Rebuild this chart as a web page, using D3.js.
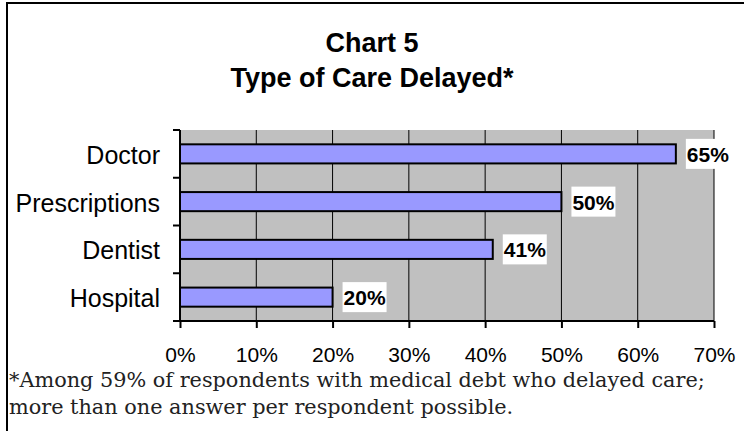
<!DOCTYPE html>
<html>
<head>
<script src="https://cdn.jsdelivr.net/npm/d3@7"></script>
<style>
  body { margin: 0; background: #fff; }
  text { font-family: "Liberation Sans", Arial, sans-serif; }
</style>
</head>
<body>
<div id="chart"></div>
<script>
// data
var categories = ["Doctor", "Prescriptions", "Dentist", "Hospital"];
var values = [65, 50, 41, 20];
var xTicks = [0, 10, 20, 30, 40, 50, 60, 70];
var titleLines = ["Chart 5", "Type of Care Delayed*"];
var footnote = ["*Among 59% of respondents with medical debt who delayed care;",
                "more than one answer per respondent possible."];

var width = 744, height = 431;
var plotL = 180, plotR = 714, plotT = 130, plotB = 321;

var svg = d3.select("#chart").append("svg")
    .attr("width", width)
    .attr("height", height);

// frame (top + left edges only are visible)
svg.append("line").attr("x1", 6).attr("x2", 744).attr("y1", 3).attr("y2", 3)
    .attr("stroke", "#000").attr("stroke-width", 2);
svg.append("line").attr("x1", 7).attr("x2", 7).attr("y1", 3).attr("y2", 431)
    .attr("stroke", "#000").attr("stroke-width", 2);

// title
svg.selectAll(".title")
    .data(titleLines)
    .enter().append("text")
    .attr("x", 372)
    .attr("y", function(d, i) { return 52 + i * 35; })
    .attr("text-anchor", "middle")
    .attr("font-size", 27)
    .attr("font-weight", "bold")
    .text(function(d) { return d; });

var x = d3.scaleLinear().domain([0, 70]).range([plotL, plotR]);
var y = d3.scaleBand().domain(categories).range([plotT, plotB]);

// plot background
svg.append("rect")
    .attr("x", plotL).attr("y", plotT)
    .attr("width", plotR - plotL).attr("height", plotB - plotT)
    .attr("fill", "#c0c0c0");

// gridlines
svg.selectAll(".grid")
    .data(xTicks.slice(1))
    .enter().append("line")
    .attr("x1", function(d) { return x(d); })
    .attr("x2", function(d) { return x(d); })
    .attr("y1", plotT).attr("y2", plotB)
    .attr("stroke", "#000").attr("stroke-width", 1);

// bars
var barH = y.bandwidth() * 0.4;
svg.selectAll(".bar")
    .data(values)
    .enter().append("rect")
    .attr("x", x(0))
    .attr("y", function(d, i) { return y(categories[i]) + y.bandwidth() / 2 - barH / 2; })
    .attr("width", function(d) { return x(d) - x(0); })
    .attr("height", barH)
    .attr("fill", "#9999ff")
    .attr("stroke", "#000")
    .attr("stroke-width", 2);

// value labels with white boxes
var lab = svg.selectAll(".lab")
    .data(values)
    .enter().append("g")
    .attr("transform", function(d, i) {
        return "translate(" + (x(d) + 10) + "," + (y(categories[i]) + y.bandwidth() / 2) + ")";
    });
lab.append("rect")
    .attr("x", 0).attr("y", -15)
    .attr("width", 44).attr("height", 30)
    .attr("fill", "#fff");
lab.append("text")
    .attr("x", 1).attr("y", 8)
    .attr("font-size", 21)
    .attr("font-weight", "bold")
    .text(function(d) { return d + "%"; });

// x axis
var xAxis = d3.axisBottom(x)
    .tickValues(xTicks)
    .tickSize(7)
    .tickPadding(19)
    .tickFormat(function(d) { return d + "%"; });
var gx = svg.append("g")
    .attr("transform", "translate(0," + plotB + ")")
    .call(xAxis);
gx.select(".domain").attr("stroke-width", 2).attr("d", "M" + plotL + ",0H" + plotR);
gx.selectAll(".tick line").attr("stroke-width", 2);
gx.selectAll("text").attr("font-size", 21).attr("fill", "#000")
    .style("font-family", "'Liberation Sans', Arial, sans-serif");

// y axis: ticks at band boundaries
var gy = svg.append("g");
gy.append("line").attr("x1", plotL).attr("x2", plotL).attr("y1", plotT).attr("y2", plotB)
    .attr("stroke", "#000").attr("stroke-width", 2);
gy.selectAll(".ytick")
    .data(categories.concat([null]))
    .enter().append("line")
    .attr("x1", plotL - 7).attr("x2", plotL)
    .attr("y1", function(d, i) { return i < categories.length ? y(d) : plotB; })
    .attr("y2", function(d, i) { return i < categories.length ? y(d) : plotB; })
    .attr("stroke", "#000").attr("stroke-width", 2);
gy.selectAll(".ylab")
    .data(categories)
    .enter().append("text")
    .attr("x", 160)
    .attr("y", function(d) { return y(d) + y.bandwidth() / 2 + 10; })
    .attr("text-anchor", "end")
    .attr("font-size", 25)
    .text(function(d) { return d; });

// footnote
svg.selectAll(".foot")
    .data(footnote)
    .enter().append("text")
    .attr("x", 9)
    .attr("y", function(d, i) { return 387 + i * 27; })
    .attr("font-size", 20.8)
    .style("font-family", "'DejaVu Serif', serif")
    .attr("fill", "#222")
    .text(function(d) { return d; });
</script>
</body>
</html>
